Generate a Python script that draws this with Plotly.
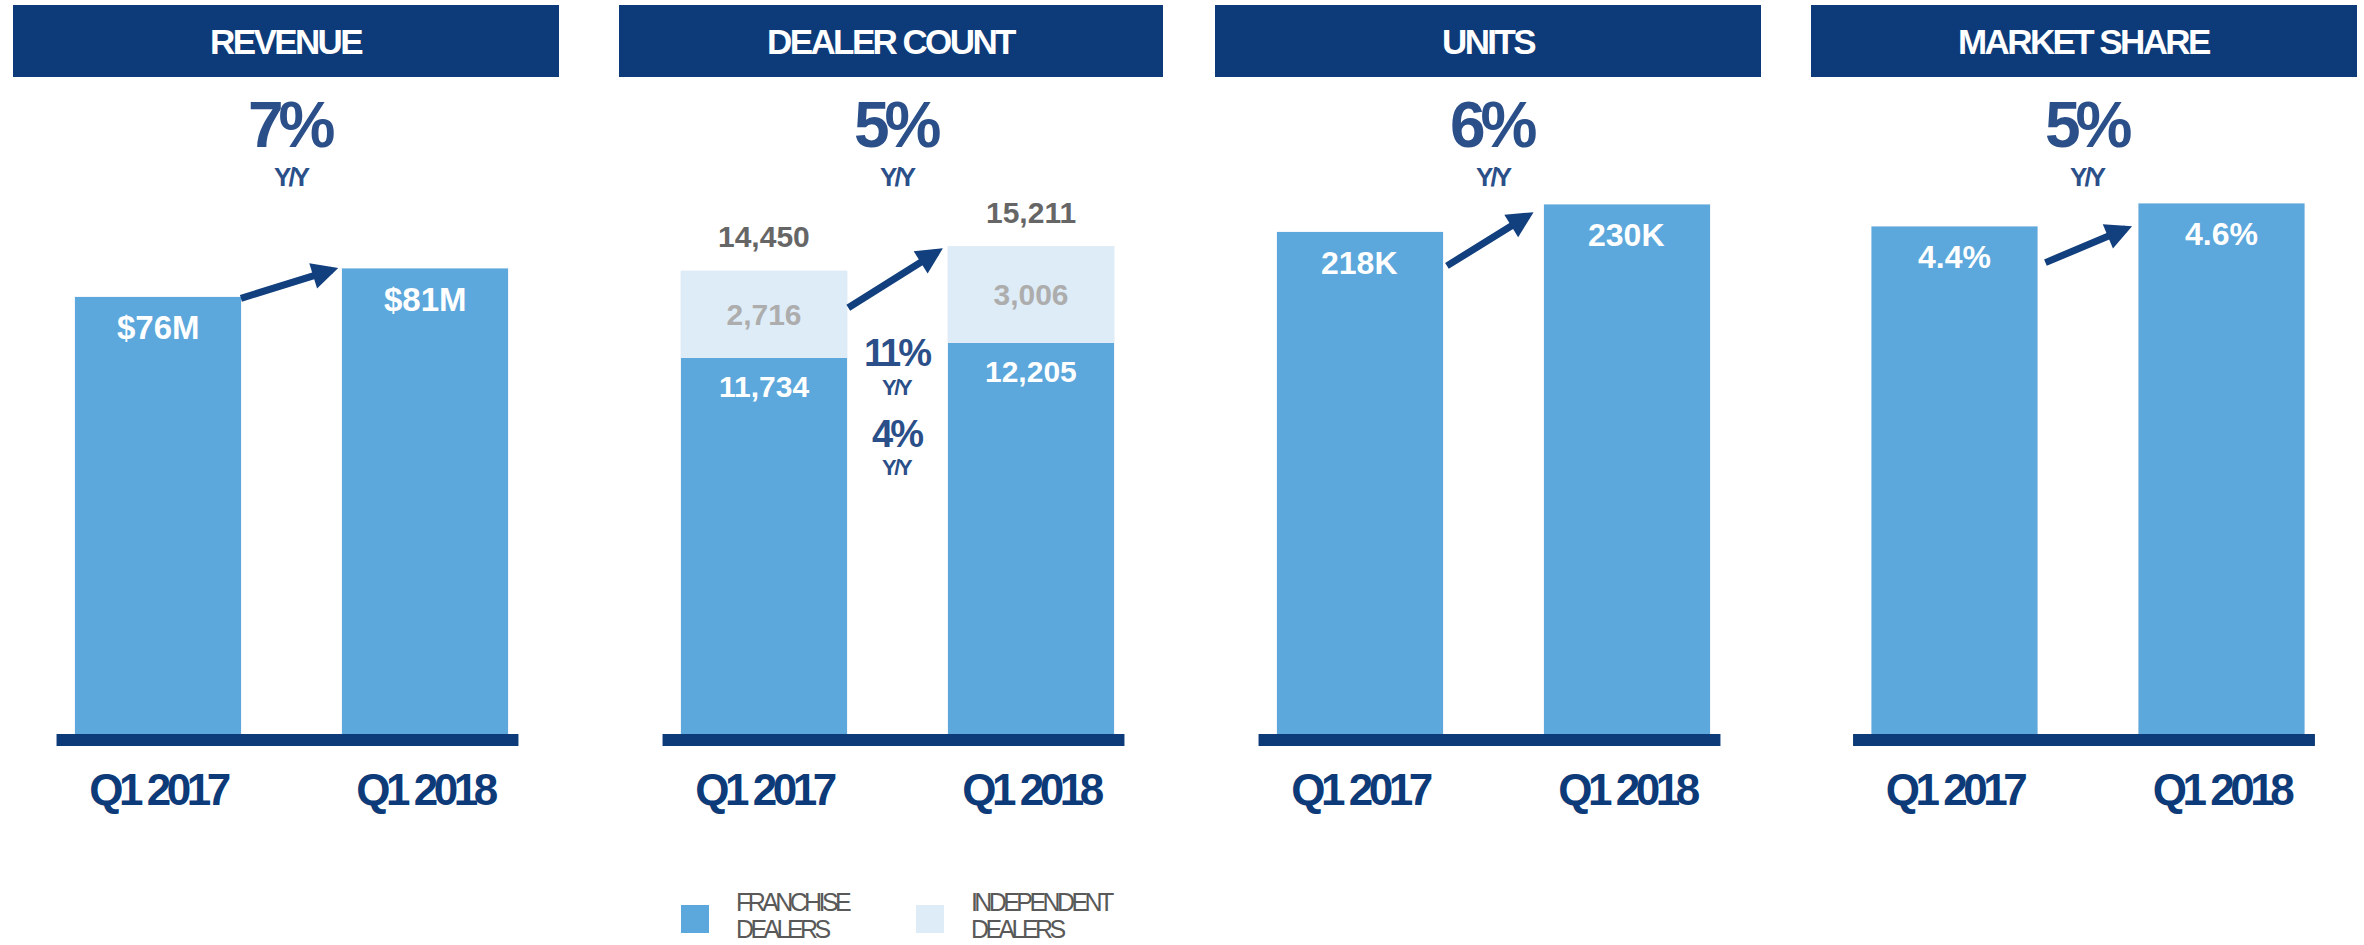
import plotly.graph_objects as go

W, H = 2364, 945

quarters = ["Q1 2017", "Q1 2018"]
titles = ["REVENUE", "DEALER COUNT", "UNITS", "MARKET SHARE"]
yoy = ["7%", "5%", "6%", "5%"]

revenue = [76, 81]
revenue_text = ["$76M", "$81M"]
franchise = [11734, 12205]
independent = [2716, 3006]
dealer_total = [14450, 15211]
dealer_yoy = ["11%", "4%"]
units = [218, 230]
units_text = ["218K", "230K"]
share = [4.4, 4.6]
share_text = ["4.4%", "4.6%"]

NAVY = "#0d3a78"
PCT = "#2b4f89"
BLUE = "#5ca8dc"
LIGHT = "#ddecf7"
GREY = "#666666"
FONT = "Liberation Sans"


def sp(text, ls):
    return '<span style="letter-spacing:%spx">%s</span>' % (ls, text)


def px_x(v):
    return v / W


def px_y(v):
    return 1 - v / H


# panel layout in pixels
dom_left = [24.5, 630.5, 1226.5, 1821]
dom_w = 534
head_x = [(13, 559), (619, 1163), (1215, 1761), (1811, 2357)]
y_base, y_top = 734, 130
y_max = [105, 18840, 262.2, 5.234]
plot_h = y_base - y_top

fig = go.Figure()

fig.add_trace(go.Bar(x=quarters, y=revenue, xaxis="x", yaxis="y",
                     marker_color=BLUE, width=0.625, showlegend=False))
fig.add_trace(go.Bar(x=quarters, y=franchise, xaxis="x2", yaxis="y2",
                     marker_color=BLUE, width=0.625, name="FRANCHISE DEALERS", showlegend=False))
fig.add_trace(go.Bar(x=quarters, y=independent, xaxis="x2", yaxis="y2",
                     marker_color=LIGHT, width=0.625, name="INDEPENDENT DEALERS",
                     text=["{:,}".format(v) for v in independent], textposition="inside",
                     insidetextanchor="middle",
                     textfont=dict(family=FONT, size=30, color="#adadad", weight="bold"),
                     showlegend=False))
fig.add_trace(go.Bar(x=quarters, y=units, xaxis="x3", yaxis="y3",
                     marker_color=BLUE, width=0.625, showlegend=False))
fig.add_trace(go.Bar(x=quarters, y=share, xaxis="x4", yaxis="y4",
                     marker_color=BLUE, width=0.625, showlegend=False))

layout = dict(
    width=W, height=H, autosize=False,
    margin=dict(l=0, r=0, t=0, b=0),
    paper_bgcolor="white", plot_bgcolor="white",
    barmode="stack", showlegend=False,
    font=dict(family=FONT),
)
shapes = []
annotations = []

for i in range(4):
    sfx = "" if i == 0 else str(i + 1)
    x0 = dom_left[i]
    layout["xaxis" + sfx] = dict(
        domain=[px_x(x0), px_x(x0 + dom_w)], anchor="y" + sfx,
        range=[-0.5, 1.5], type="category",
        showgrid=False, zeroline=False, showline=False, ticks="",
        tickvals=quarters, ticktext=[sp(q, -4.5) for q in quarters],
        tickfont=dict(family=FONT, size=44, color=NAVY, weight="bold"),
        ticklabelstandoff=26,
    )
    layout["yaxis" + sfx] = dict(
        domain=[px_y(y_base), px_y(y_top)], anchor="x" + sfx,
        range=[0, y_max[i]], visible=False,
    )
    # thick baseline
    shapes.append(dict(type="rect", xref="x" + sfx, yref="paper",
                       x0=-0.38, x1=1.35, y0=px_y(746), y1=px_y(734),
                       fillcolor=NAVY, line_width=0, layer="above"))
    # header box
    hx0, hx1 = head_x[i]
    shapes.append(dict(type="rect", xref="paper", yref="paper",
                       x0=px_x(hx0), x1=px_x(hx1), y0=px_y(77), y1=px_y(5),
                       fillcolor=NAVY, line_width=0))
    annotations.append(dict(xref="paper", yref="paper", x=px_x((hx0 + hx1) / 2), y=px_y(41),
                            text=sp(titles[i], -2.6), showarrow=False, xanchor="center", yanchor="middle",
                            font=dict(family=FONT, size=35, color="white", weight="bold")))
    cx = px_x(x0 + dom_w / 2)
    annotations.append(dict(xref="paper", yref="paper", x=cx, y=px_y(125),
                            text=sp(yoy[i], -5), showarrow=False, xanchor="center", yanchor="middle",
                            font=dict(family=FONT, size=64, color=PCT, weight="bold")))
    annotations.append(dict(xref="paper", yref="paper", x=cx, y=px_y(176.5),
                            text=sp("Y/Y", -2.9), showarrow=False, xanchor="center", yanchor="middle",
                            font=dict(family=FONT, size=26, color=PCT, weight="bold")))


def bar_label(axis, xcat, yval, text, shift, size=32, color="white"):
    annotations.append(dict(xref="x" + axis, yref="y" + axis, x=xcat, y=yval, text=text,
                            showarrow=False, xanchor="center", yanchor="middle", yshift=shift,
                            font=dict(family=FONT, size=size, color=color, weight="bold")))


for j, q in enumerate(quarters):
    bar_label("", q, revenue[j], revenue_text[j], -31, size=33)
    bar_label("2", q, franchise[j], "{:,}".format(franchise[j]), -28.5, size=30)
    bar_label("2", q, dealer_total[j], "{:,}".format(dealer_total[j]), 34, size=30, color=GREY)
    bar_label("3", q, units[j], units_text[j], -31)
    bar_label("4", q, share[j], share_text[j], -31)

# growth arrows: pixel drop below the bar tops for tail / head
series = [revenue, dealer_total, units, share]
arrow_x = [(0.305, 0.675), (0.31, 0.67), (0.32, 0.65), (0.335, 0.665)]
arrow_drop = [(2, 0), (38, 2), (35, 8), (37, 23)]
for i in range(4):
    sfx = "" if i == 0 else str(i + 1)
    scale = y_max[i] / plot_h
    v = series[i]
    annotations.append(dict(xref="x" + sfx, yref="y" + sfx, axref="x" + sfx, ayref="y" + sfx,
                            x=arrow_x[i][1], y=v[1] - arrow_drop[i][1] * scale,
                            ax=arrow_x[i][0], ay=v[0] - arrow_drop[i][0] * scale,
                            text="", showarrow=True, arrowhead=2, arrowsize=0.75,
                            arrowwidth=7, arrowcolor="#123f7d", standoff=0))

# segment growth labels between dealer bars
mid_x = px_x(897)
for txt, yc, size, ls in [(dealer_yoy[0], 352.5, 38, -3), ("Y/Y", 387.5, 22, -2.4),
                          (dealer_yoy[1], 434, 38, -3), ("Y/Y", 467.5, 22, -2.4)]:
    annotations.append(dict(xref="paper", yref="paper", x=mid_x, y=px_y(yc),
                            text=sp(txt, ls), showarrow=False, xanchor="center", yanchor="middle",
                            font=dict(family=FONT, size=size, color=PCT, weight="bold")))

# legend
for sx, col, lines in [(681, BLUE, ["FRANCHISE", "DEALERS"]), (916, LIGHT, ["INDEPENDENT", "DEALERS"])]:
    shapes.append(dict(type="rect", xref="paper", yref="paper",
                       x0=px_x(sx), x1=px_x(sx + 28), y0=px_y(933), y1=px_y(905),
                       fillcolor=col, line_width=0))
    for k, line in enumerate(lines):
        annotations.append(dict(xref="paper", yref="paper", x=px_x(sx + 53), y=px_y(902 + 27 * k),
                                text=sp(line, -3.6), showarrow=False, xanchor="left", yanchor="middle",
                                font=dict(family=FONT, size=25, color="#595959")))

layout["shapes"] = shapes
layout["annotations"] = annotations
fig.update_layout(**layout)

# page body has a default 8px margin; drop it so the figure fills the window
fig.write_html("out.html", config={"displayModeBar": False},
               post_script="document.body.style.margin='0px';")
